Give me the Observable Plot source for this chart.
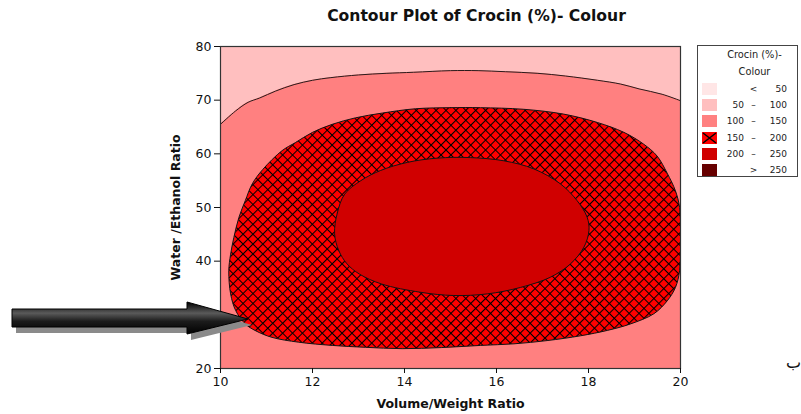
<!DOCTYPE html>
<html>
<head>
<meta charset="utf-8">
<script src="https://cdn.jsdelivr.net/npm/d3@7"></script>
<script src="https://cdn.jsdelivr.net/npm/@observablehq/plot@0.6"></script>
<style>
  html, body { margin: 0; padding: 0; background: #fff; }
  #wrap { position: relative; width: 801px; height: 414px; overflow: hidden; font-family: "DejaVu Sans", sans-serif; }
  #title { box-sizing: border-box; width: 801px; height: 30px; padding-left: 152px; padding-top: 8px; text-align: center;
           font: bold 15.6px "DejaVu Sans", sans-serif; color: #111; line-height: 17px; }
  #legend { position: absolute; left: 697px; top: 45px; width: 101px; height: 132px; box-sizing: border-box;
            border: 1px solid #444; background: #fff; font-size: 9px; color: #222; }
  #legend .lt { position: absolute; width: 100%; text-align: center; left: 0; font-size: 9.8px; }
  #legend .row { position: absolute; left: 0; height: 12px; width: 100%; }
  #legend .sw { position: absolute; left: 4px; top: 0; width: 15px; height: 12px; }
  #legend .a { position: absolute; right: 53px; top: 0; line-height: 12px; text-align: right; }
  #legend .s { position: absolute; left: 51px; width: 9px; top: 0; line-height: 12px; text-align: center; }
  #legend .b { position: absolute; right: 10px; top: 0; line-height: 12px; text-align: right; }
  #overlay { position: absolute; left: 0; top: 0; pointer-events: none; }
  #ba { position: absolute; left: 786px; top: 353px; font: 16px "DejaVu Sans", sans-serif; color: #111; }
</style>
</head>
<body>
<svg width="0" height="0" style="position:absolute">
  <defs>
    <pattern id="xhatch" patternUnits="userSpaceOnUse" width="7" height="7" patternTransform="rotate(45)">
      <rect width="7" height="7" fill="#ff0000"></rect>
      <path d="M0,0.5 H7 M0.5,0 V7" stroke="#000" stroke-width="1.1"></path>
    </pattern>
  </defs>
</svg>
<div id="wrap">
  <div id="title">Contour Plot of Crocin (%)- Colour</div>
  <div id="chart"></div>
  <div id="legend"></div>
  <svg id="overlay" width="801" height="414">
    <defs>
      <linearGradient id="arrowGrad" x1="0" y1="0" x2="0" y2="1">
        <stop offset="0" stop-color="#000"></stop>
        <stop offset="0.35" stop-color="#5a5a5a"></stop>
        <stop offset="0.6" stop-color="#1c1c1c"></stop>
        <stop offset="1" stop-color="#000"></stop>
      </linearGradient>
    </defs>
    <polygon points="16,315 191,315 191,308 252,325 191,340 191,333 16,333" fill="#8a8a8a"></polygon>
    <polygon points="12,309 187,309 187,302 248,319 187,334 187,327 12,327" fill="url(#arrowGrad)" stroke="#000" stroke-width="1"></polygon>
  </svg>
  <div id="ba">ب</div>
</div>
<script>
// ---- data ----
const xTicks = [10, 12, 14, 16, 18, 20];
const yTicks = [20, 30, 40, 50, 60, 70, 80];

// contour at Crocin = 100 (boundary between 50–100 and 100–150)
const contour100 = [
  [10, 65.5], [10.33, 68], [10.6, 69.6], [10.85, 70.4], [11.2, 71.7], [11.6, 72.9], [12, 73.7],
  [12.4, 74.2], [13, 74.7], [13.6, 75.0], [14.2, 75.2], [15, 75.5], [15.6, 75.5], [16.2, 75.3],
  [16.9, 75.0], [17.5, 74.5], [18.2, 73.7], [18.7, 73.0], [19.1, 72.1], [19.6, 71.1], [20, 69.9]
];

// contour at Crocin = 150 (outer edge of the 150–200 band)
const contour150 = [
  [14.24, 68.4], [15.0, 68.6], [15.65, 68.6], [16.59, 68.3], [17.46, 67.4], [18.19, 65.85], [18.77, 64.0],
  [19.2, 61.8], [19.49, 59.6], [19.71, 56.4], [19.89, 53.1], [19.98, 50.0], [20.0, 44.0], [19.98, 38.2],
  [19.89, 35.1], [19.71, 32.6], [19.42, 30.2], [18.91, 28.3], [18.41, 27.1], [17.83, 26.1], [17.1, 25.2],
  [16.38, 24.6], [15.65, 24.3], [14.8, 23.9], [13.95, 23.7], [13.15, 23.95], [12.43, 24.3], [11.7, 24.9],
  [11.12, 25.8], [10.76, 27.05], [10.54, 28.3], [10.33, 30.8], [10.22, 33.9], [10.18, 38.2], [10.22, 41.3],
  [10.29, 44.4], [10.4, 48.15], [10.54, 51.3], [10.69, 54.4], [10.92, 57.1], [11.34, 60.6], [11.63, 62.1],
  [12.0, 64.0], [12.43, 65.5], [12.93, 66.7], [13.52, 67.6]
];

// contour at Crocin = 200 (edge of the 200–250 core)
const contour200 = [
  [12.48, 45.1], [12.54, 49.0], [12.7, 52.5], [13.05, 55.0], [13.48, 56.9], [14.06, 58.4], [14.71, 59.2],
  [15.43, 59.3], [16.16, 58.7], [16.81, 57.2], [17.39, 54.4], [17.75, 51.3], [17.97, 48.2], [18.01, 45.7],
  [17.9, 42.6], [17.61, 39.5], [17.17, 37.0], [16.52, 35.1], [15.8, 33.9], [15.07, 33.6], [14.35, 34.2],
  [13.5, 35.75], [13.02, 37.6], [12.75, 39.5], [12.57, 42.0]
];

// legend
const legendTitle = ["Crocin (%)-", "Colour"];
const legendLow = ["", "50", "100", "150", "200", ""];
const legendSym = ["<", "–", "–", "–", "–", ">"];
const legendHigh = ["50", "100", "150", "200", "250", "250"];
const bandColors = ["#ffe6e6", "#ffbfbf", "#ff8080", "#ff0000", "#d00000", "#660000"];

const px = d => d[0], py = d => d[1];

const chart = Plot.plot({
  width: 801,
  height: 384,
  marginLeft: 220,
  marginRight: 121,
  marginTop: 16,
  marginBottom: 46,
  x: {domain: [10, 20]},
  y: {domain: [20, 80]},
  style: {fontFamily: "DejaVu Sans, sans-serif", fontSize: "12.5px", color: "#111", background: "transparent", overflow: "visible"},
  marks: [
    Plot.frame({fill: bandColors[2]}),
    Plot.areaY(contour100, {x: px, y1: py, y2: () => 80, fill: bandColors[1], curve: "catmull-rom"}),
    Plot.line(contour100, {x: px, y: py, stroke: "#2a1a1a", strokeWidth: 1, curve: "catmull-rom"}),
    Plot.line(contour150, {x: px, y: py, fill: "url(#xhatch)", stroke: "#111", strokeWidth: 1, curve: "catmull-rom-closed", clip: true}),
    Plot.line(contour200, {x: px, y: py, fill: bandColors[4], stroke: "#111", strokeWidth: 1, curve: "catmull-rom-closed"}),
    Plot.frame({stroke: "#333", strokeWidth: 1.2}),
    Plot.axisX({ticks: xTicks, tickSize: 5, tickPadding: 4, label: null, tickFormat: d => String(d)}),
    Plot.axisY({ticks: yTicks, tickSize: 6, tickPadding: 3, label: null, tickFormat: d => String(d)}),
    Plot.text(["Volume/Weight Ratio"], {text: d => d, frameAnchor: "bottom", lineAnchor: "middle", textAnchor: "middle", dy: 35, fontWeight: "bold", fontSize: 12.5}),
    Plot.text(["Water /Ethanol Ratio"], {text: d => d, frameAnchor: "left", lineAnchor: "middle", textAnchor: "middle", dx: -45, rotate: -90, fontWeight: "bold", fontSize: 12.5})
  ]
});
document.getElementById("chart").appendChild(chart);

// legend (HTML)
const lg = document.getElementById("legend");
legendTitle.forEach((t, i) => {
  const d = document.createElement("div");
  d.className = "lt";
  d.style.top = (3 + i * 17) + "px";
  d.style.paddingLeft = "14px";
  d.style.boxSizing = "border-box";
  d.textContent = t;
  lg.appendChild(d);
});
bandColors.forEach((c, i) => {
  const r = document.createElement("div");
  r.className = "row";
  r.style.top = (37 + i * 16.2) + "px";
  const sw = document.createElementNS("http://www.w3.org/2000/svg", "svg");
  sw.setAttribute("class", "sw");
  sw.setAttribute("width", 15); sw.setAttribute("height", 12);
  sw.innerHTML = `<rect width="15" height="12" fill="${c}"/>` + (i === 3 ? `<path d="M1,1 L14,11 M14,1 L1,11" stroke="#000" stroke-width="1.5"/>` : "");
  r.appendChild(sw);
  const a = document.createElement("span"); a.className = "a"; a.textContent = legendLow[i]; r.appendChild(a);
  const s = document.createElement("span"); s.className = "s"; s.textContent = legendSym[i]; r.appendChild(s);
  const b = document.createElement("span"); b.className = "b"; b.textContent = legendHigh[i]; r.appendChild(b);
  lg.appendChild(r);
});
</script>
</body>
</html>
